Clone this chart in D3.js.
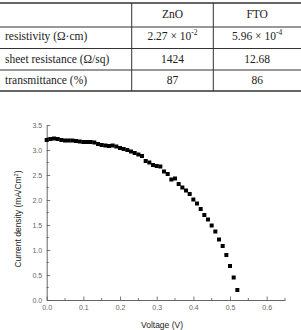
<!DOCTYPE html>
<html><head><meta charset="utf-8">
<script src="https://cdn.jsdelivr.net/npm/d3@7"></script>
<style>body{margin:0;background:#fff}svg{display:block}</style>
</head><body>
<svg id="c" width="301" height="330"></svg>
<script>
const tableColumns = ["", "ZnO", "FTO"];
const tableRowLabels = ["resistivity (\u03A9\u00B7cm)", "sheet resistance (\u03A9/sq)", "transmittance (%)"];
const znoValues = [["2.27 \u00D7 10", "-2"], ["1424", null], ["87", null]];
const ftoValues = [["5.96 \u00D7 10", "-4"], ["12.68", null], ["86", null]];

const voltage = [0.00,0.01,0.02,0.03,0.04,0.05,0.06,0.07,0.08,0.09,0.10,0.11,0.12,0.13,0.14,0.15,0.16,0.17,0.18,0.19,0.20,0.21,0.22,0.23,0.24,0.25,0.26,0.27,0.28,0.29,0.30,0.31,0.32,0.33,0.34,0.35,0.36,0.37,0.38,0.39,0.40,0.41,0.42,0.43,0.44,0.45,0.46,0.47,0.48,0.49,0.50,0.51,0.52];
const currentDensity = [3.20,3.22,3.23,3.22,3.20,3.19,3.19,3.19,3.18,3.17,3.16,3.16,3.16,3.15,3.12,3.10,3.09,3.08,3.09,3.07,3.04,3.02,3.00,2.97,2.94,2.91,2.88,2.78,2.75,2.70,2.68,2.67,2.57,2.52,2.41,2.43,2.32,2.25,2.19,2.12,2.01,1.93,1.82,1.70,1.61,1.49,1.37,1.21,1.08,0.90,0.68,0.45,0.20];
const xTicks = [0.0,0.1,0.2,0.3,0.4,0.5,0.6];
const yTicks = [0.0,0.5,1.0,1.5,2.0,2.5,3.0,3.5];

const svg = d3.select("#c");

// ---- table ----
const tb = svg.append("g");
const colX = [0, 131.7, 213.3, 301];
const rowY = [3, 27, 48.5, 70, 91];
const lineColor = "#333";
rowY.forEach((y,i) => tb.append("line").attr("x1",0).attr("x2",301).attr("y1",y).attr("y2",y)
  .attr("stroke", lineColor).attr("stroke-width", (i===0||i===rowY.length-1)?1.3:1));
[1,2].forEach(i => tb.append("line").attr("x1",colX[i]).attr("x2",colX[i]).attr("y1",rowY[0]).attr("y2",rowY[rowY.length-1]).attr("stroke",lineColor).attr("stroke-width",1));
const tf = "'Liberation Serif','Times New Roman',serif";
const fsT = 11.5;
const baselines = [17.5, 39.5, 62.5, 83.5];
[1,2].forEach(i => tb.append("text").attr("x",(colX[i]+colX[i+1])/2).attr("y",baselines[0])
  .attr("text-anchor","middle").attr("font-family",tf).attr("font-size",fsT).attr("fill","#222").text(tableColumns[i]));
tableRowLabels.forEach((l,r) => tb.append("text").attr("x",5).attr("y",baselines[r+1])
  .attr("font-family",tf).attr("font-size",fsT).attr("fill","#222").text(l));
function cell(val, cx, y){
  const t = tb.append("text").attr("x",cx).attr("y",y).attr("text-anchor","middle")
    .attr("font-family",tf).attr("font-size",fsT).attr("fill","#222");
  t.append("tspan").text(val[0]);
  if(val[1]) t.append("tspan").attr("dy",-4.5).attr("font-size",7.5).text(val[1]);
}
znoValues.forEach((v,r)=>cell(v,(colX[1]+colX[2])/2,baselines[r+1]));
ftoValues.forEach((v,r)=>cell(v,(colX[2]+colX[3])/2,baselines[r+1]));

// ---- chart ----
const x = d3.scaleLinear().domain([0,0.65]).range([46.7, 285]);
const y = d3.scaleLinear().domain([0,3.5]).range([300, 125]);
const axisColor = "#555", labelColor = "#666";
const sf = "Arial,'Liberation Sans',sans-serif";
const g = svg.append("g");

// minor ticks
const xMinor = d3.range(0.05,0.651,0.1);
const yMinor = d3.range(0.25,3.5,0.5);
g.selectAll(".xm").data(xMinor).join("line").attr("x1",d=>x(d)).attr("x2",d=>x(d)).attr("y1",300).attr("y2",298).attr("stroke",axisColor).attr("stroke-width",0.8);
g.selectAll(".ym").data(yMinor).join("line").attr("y1",d=>y(d)).attr("y2",d=>y(d)).attr("x1",x(0)).attr("x2",x(0)+2).attr("stroke",axisColor).attr("stroke-width",0.8);

const xAxis = d3.axisBottom(x).tickValues(xTicks).tickFormat(d3.format(".1f")).tickSizeInner(-3.5).tickSizeOuter(0).tickPadding(7);
const yAxis = d3.axisLeft(y).tickValues(yTicks).tickFormat(d3.format(".1f")).tickSizeInner(-3.5).tickSizeOuter(0).tickPadding(7);
const gx = g.append("g").attr("transform","translate(0,300)").call(xAxis);
const gy = g.append("g").attr("transform",`translate(${x(0)},0)`).call(yAxis);
[gx,gy].forEach(a=>{
  a.select(".domain").attr("stroke",axisColor).attr("stroke-width",0.9);
  a.selectAll(".tick line").attr("stroke",axisColor).attr("stroke-width",0.8);
  a.selectAll(".tick text").attr("fill",labelColor).attr("font-family",sf).attr("font-size",7);
});
gy.selectAll(".tick text").attr("x",-4.5);
gx.selectAll(".tick text").attr("dy","0.71em").attr("y",5.5);

// data markers
const ms = 4;
g.selectAll(".pt").data(voltage.map((v,i)=>[v,currentDensity[i]])).join("rect")
  .attr("x",d=>x(d[0])-ms/2).attr("y",d=>y(d[1])-ms/2).attr("width",ms).attr("height",ms).attr("fill","#000");

// axis titles
g.append("text").attr("x",162).attr("y",328).attr("text-anchor","middle").attr("font-family",sf).attr("font-size",8.5).attr("fill","#222").text("Voltage (V)");
const yt = g.append("text").attr("transform","translate(21,219) rotate(-90)").attr("text-anchor","middle").attr("font-family",sf).attr("font-size",8.5).attr("fill","#222");
yt.append("tspan").text("Current density (mA/Cm");
yt.append("tspan").attr("dy",-3.5).attr("font-size",5.5).text("2");
yt.append("tspan").attr("dy",3.5).text(")");
</script>
</body></html>
